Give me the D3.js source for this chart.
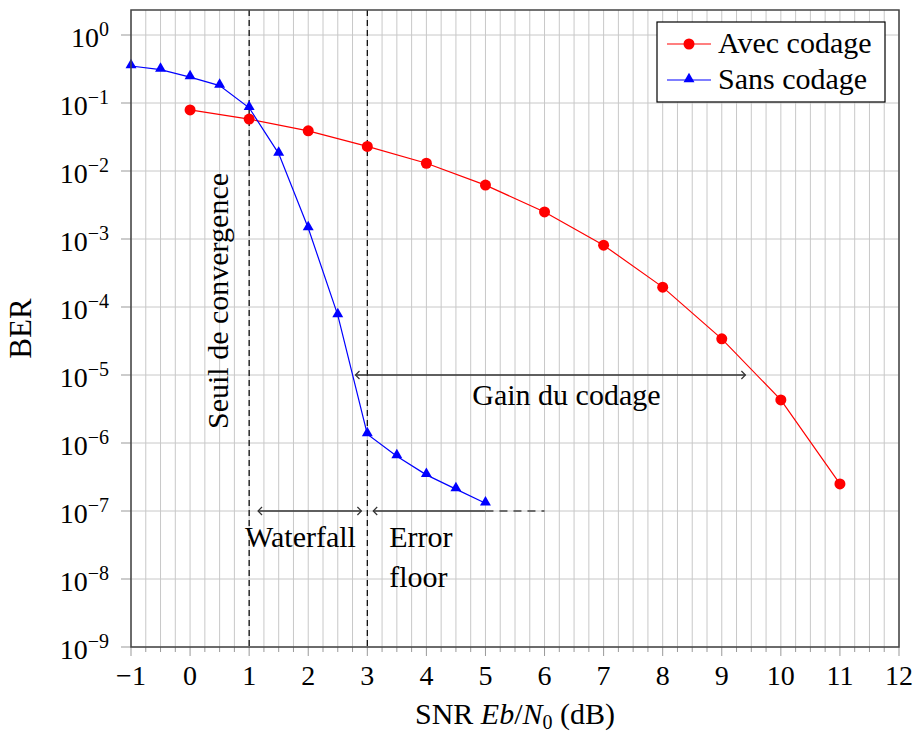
<!DOCTYPE html>
<html>
<head>
<meta charset="utf-8">
<script src="https://cdnjs.cloudflare.com/ajax/libs/d3/7.8.5/d3.min.js"></script>
<style>
  body { margin: 0; background: #fff; }
</style>
</head>
<body>
<svg id="chart" width="916" height="738" font-family="'Liberation Serif', 'DejaVu Serif', serif"></svg>
<script>
// values
const snr_coded = [0, 1, 2, 3, 4, 5, 6, 7, 8, 9, 10, 11];
const ber_coded = [0.079, 0.058, 0.039, 0.023, 0.013, 0.0062, 0.0025, 8.1e-4, 1.96e-4, 3.4e-5, 4.3e-6, 2.5e-7];
const snr_uncoded = [-1, -0.5, 0, 0.5, 1, 1.5, 2, 2.5, 3, 3.5, 4, 4.5, 5];
const ber_uncoded = [0.35, 0.31, 0.24, 0.18, 0.085, 0.018, 1.45e-3, 7.6e-5, 1.35e-6, 6.4e-7, 3.4e-7, 2.1e-7, 1.3e-7];
const x_ticks = [-1, 0, 1, 2, 3, 4, 5, 6, 7, 8, 9, 10, 11, 12];
const y_exps = [0, -1, -2, -3, -4, -5, -6, -7, -8, -9];
const series_names = ["Avec codage", "Sans codage"];

const svg = d3.select("#chart");
const pLeft = 131, pRight = 899, pTop = 10, pBottom = 647;
const FS = 30;

const x = d3.scaleLinear().domain([-1, 12]).range([pLeft, pRight]);
const y = d3.scaleLog().domain([1e-9, Math.pow(10, 25 / 68)]).range([pBottom, pTop]);

// grid
const grid = svg.append("g");
grid.selectAll("line.vx")
    .data(d3.range(-1, 12.001, 0.25))
    .enter().append("line")
    .attr("x1", d => x(d)).attr("x2", d => x(d))
    .attr("y1", pTop).attr("y2", pBottom)
    .attr("stroke", "#c8c8c8").attr("stroke-width", 1);
grid.selectAll("line.hy")
    .data(y_exps)
    .enter().append("line")
    .attr("x1", pLeft).attr("x2", pRight)
    .attr("y1", d => y(Math.pow(10, d))).attr("y2", d => y(Math.pow(10, d)))
    .attr("stroke", "#c8c8c8").attr("stroke-width", 1);

// ticks outside the frame
const ticks = svg.append("g").attr("stroke", "#999");
ticks.selectAll("line.mx")
    .data(d3.range(-1, 12.001, 0.25))
    .enter().append("line")
    .attr("x1", d => x(d)).attr("x2", d => x(d))
    .attr("y1", pBottom).attr("y2", d => pBottom + (Math.abs(d - Math.round(d)) < 1e-6 ? 9 : 5));
ticks.selectAll("line.my")
    .data(y_exps)
    .enter().append("line")
    .attr("x1", pLeft - 10).attr("x2", pLeft)
    .attr("y1", d => y(Math.pow(10, d))).attr("y2", d => y(Math.pow(10, d)));

// tick labels
svg.append("g").selectAll("text")
    .data(x_ticks)
    .enter().append("text")
    .attr("x", d => x(d)).attr("y", pBottom + 38)
    .attr("text-anchor", "middle").attr("font-size", 28)
    .text(d => d < 0 ? "\u2212" + (-d) : d);

const ylab = svg.append("g").selectAll("text")
    .data(y_exps)
    .enter().append("text")
    .attr("x", pLeft - 22).attr("y", d => y(Math.pow(10, d)) + 12)
    .attr("text-anchor", "end").attr("font-size", 28);
ylab.append("tspan").text("10");
ylab.append("tspan").attr("dy", -11).attr("font-size", 20)
    .text(d => d < 0 ? "\u2212" + (-d) : d);

// axis titles
svg.append("text")
    .attr("transform", "translate(31," + ((pTop + pBottom) / 2) + ") rotate(-90)")
    .attr("text-anchor", "middle").attr("font-size", 31).text("BER");
const xt = svg.append("text")
    .attr("x", (pLeft + pRight) / 2).attr("y", 724)
    .attr("text-anchor", "middle").attr("font-size", 30);
xt.append("tspan").text("SNR ");
xt.append("tspan").attr("font-style", "italic").text("Eb");
xt.append("tspan").text("/");
xt.append("tspan").attr("font-style", "italic").text("N");
xt.append("tspan").attr("dy", 5).attr("font-size", 20).text("0");
xt.append("tspan").attr("dy", -5).text(" (dB)");

// annotations
const ann = svg.append("g");
[1, 3].forEach(v => {
  ann.append("line")
    .attr("x1", x(v)).attr("x2", x(v)).attr("y1", pTop).attr("y2", pBottom)
    .attr("stroke", "#000").attr("stroke-width", 1.2).attr("stroke-dasharray", "6,4");
});

const defs = svg.append("defs");
defs.append("marker").attr("id", "ah").attr("viewBox", "-6 -6 12 12")
    .attr("markerWidth", 12).attr("markerHeight", 12)
    .attr("markerUnits", "userSpaceOnUse").attr("orient", "auto-start-reverse")
    .attr("refX", 0).attr("refY", 0)
  .append("path").attr("d", "M-4,-4 L0,0 L-4,4")
    .attr("fill", "none").attr("stroke", "#333").attr("stroke-width", 1.2);

function arrow(x1, x2, yv, both) {
  const l = ann.append("line")
    .attr("x1", x(x1)).attr("x2", x(x2)).attr("y1", y(yv)).attr("y2", y(yv))
    .attr("stroke", "#333").attr("stroke-width", 1.4)
    .attr("marker-start", "url(#ah)");
  if (both) l.attr("marker-end", "url(#ah)");
}
arrow(1.15, 2.9, 1e-7, true);
arrow(3.1, 5, 1e-7, false);
arrow(2.8, 9.4, 1e-5, true);
ann.append("line")
  .attr("x1", x(5)).attr("x2", x(6)).attr("y1", y(1e-7)).attr("y2", y(1e-7))
  .attr("stroke", "#444").attr("stroke-width", 1.4).attr("stroke-dasharray", "8,6");

ann.append("text").attr("x", x(1.87)).attr("y", y(1e-7) + 36)
  .attr("text-anchor", "middle").attr("font-size", FS).text("Waterfall");
ann.append("text").attr("x", x(3.37)).attr("y", y(1e-7) + 36)
  .attr("font-size", FS).text("Error");
ann.append("text").attr("x", x(3.37)).attr("y", y(1e-7) + 76)
  .attr("font-size", FS).text("floor");
ann.append("text").attr("x", x(6.37)).attr("y", y(1e-5) + 30)
  .attr("text-anchor", "middle").attr("font-size", FS).text("Gain du codage");
ann.append("text")
  .attr("transform", "translate(" + (x(0.47) + 10) + "," + 301 + ") rotate(-90)")
  .attr("text-anchor", "middle").attr("font-size", FS).text("Seuil de convergence");

// series
const line = d3.line().x(d => x(d[0])).y(d => y(d[1]));
const coded = d3.zip(snr_coded, ber_coded);
const uncoded = d3.zip(snr_uncoded, ber_uncoded);
const tri = d3.symbol().type(d3.symbolTriangle).size(52);

const clip = defs.append("clipPath").attr("id", "clip");
clip.append("rect").attr("x", pLeft - 8).attr("y", pTop).attr("width", pRight - pLeft + 16).attr("height", pBottom - pTop);

const plot = svg.append("g").attr("clip-path", "url(#clip)");
plot.append("path").datum(coded).attr("d", line)
  .attr("fill", "none").attr("stroke", "#ff0000").attr("stroke-width", 1.2);
plot.selectAll("circle").data(coded).enter().append("circle")
  .attr("cx", d => x(d[0])).attr("cy", d => y(d[1])).attr("r", 5.5).attr("fill", "#ff0000");
plot.append("path").datum(uncoded).attr("d", line)
  .attr("fill", "none").attr("stroke", "#0000ff").attr("stroke-width", 1.2);
plot.selectAll("path.tri").data(uncoded).enter().append("path").attr("class", "tri")
  .attr("transform", d => "translate(" + x(d[0]) + "," + (y(d[1]) - 1) + ")")
  .attr("d", tri).attr("fill", "#0000ff");

// frame
svg.append("rect").attr("x", pLeft).attr("y", pTop).attr("width", pRight - pLeft).attr("height", pBottom - pTop)
  .attr("fill", "none").attr("stroke", "#444").attr("stroke-width", 1.5);

// legend
const lg = svg.append("g").attr("transform", "translate(657,22)");
lg.append("rect").attr("width", 228).attr("height", 80)
  .attr("fill", "#fff").attr("stroke", "#000").attr("stroke-width", 1.2);
const colors = ["#ff0000", "#0000ff"];
series_names.forEach((name, i) => {
  const yy = 22 + i * 36;
  lg.append("line").attr("x1", 10).attr("x2", 54).attr("y1", yy).attr("y2", yy)
    .attr("stroke", colors[i]).attr("stroke-width", 1.2);
  if (i === 0) lg.append("circle").attr("cx", 32).attr("cy", yy).attr("r", 5.5).attr("fill", colors[i]);
  else lg.append("path").attr("transform", "translate(32," + (yy - 1) + ")").attr("d", tri).attr("fill", colors[i]);
  lg.append("text").attr("x", 61).attr("y", yy + 9).attr("font-size", FS).text(name);
});
</script>
</body>
</html>
